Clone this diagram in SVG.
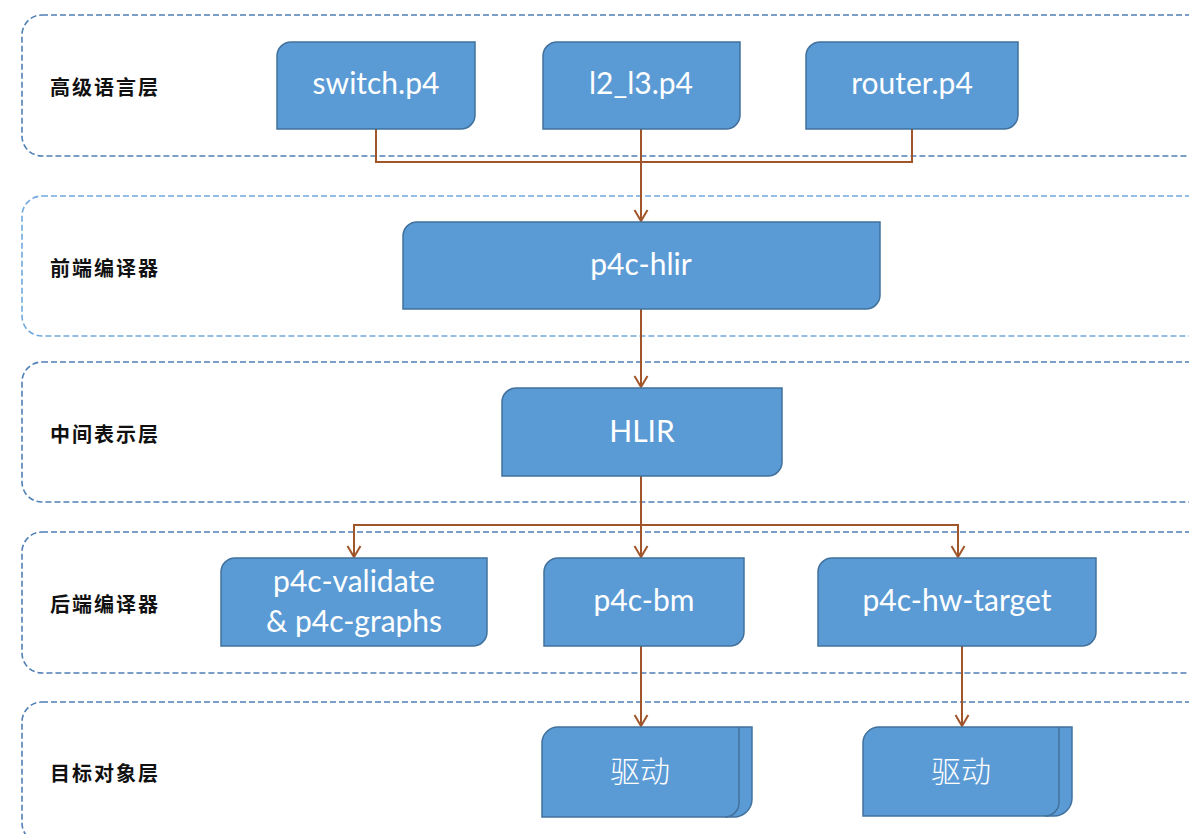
<svg xmlns="http://www.w3.org/2000/svg" width="1189" height="834" viewBox="0 0 1189 834">
  <defs>
    <style>
      .layer { fill: none; stroke: #4F7FB5; stroke-width: 1.6; stroke-dasharray: 6 3; }
      .layer.light { stroke: #6FA9DE; }
      .layer-label { font-family: "Noto Sans CJK SC", "Noto Sans", sans-serif; font-size: 20px; font-weight: 700; fill: #111; letter-spacing: 2px; dominant-baseline: central; }
      .node { fill: #5B9BD5; stroke: #41719C; stroke-width: 1.5; }
      .fold { fill: none; stroke: #41719C; stroke-width: 1.5; }
      .label { font-family: Lato, "Open Sans", "Noto Sans CJK SC", sans-serif; font-size: 30px; fill: #FFFFFF; text-anchor: middle; dominant-baseline: central; }
      .label-cjk { font-family: "Noto Sans CJK SC", sans-serif; font-size: 30px; font-weight: 300; fill: #FFFFFF; text-anchor: middle; dominant-baseline: central; }
      .edge { fill: none; stroke: #A0562A; stroke-width: 2; marker-end: url(#arrow); }
      .edge.plain { marker-end: none; }
    </style>
    <marker id="arrow" viewBox="-12 -8 14 16" markerWidth="14" markerHeight="16" refX="0" refY="0" orient="auto" markerUnits="userSpaceOnUse">
      <path d="M-11,-6.5 L0,0 L-11,6.5" fill="none" stroke="#A0562A" stroke-width="2"/>
    </marker>
  </defs>

  <!-- layer bands -->
  <g id="layers">
    <rect class="layer" x="22" y="15" width="1210" height="141" rx="20"/>
    <rect class="layer light" x="22" y="196" width="1210" height="140" rx="20"/>
    <rect class="layer" x="22" y="362" width="1210" height="140" rx="20"/>
    <rect class="layer" x="22" y="532" width="1210" height="141" rx="20"/>
    <rect class="layer" x="22" y="702" width="1210" height="141" rx="20"/>
    <text class="layer-label" x="50" y="86">高级语言层</text>
    <text class="layer-label" x="50" y="267">前端编译器</text>
    <text class="layer-label" x="50" y="433">中间表示层</text>
    <text class="layer-label" x="50" y="603">后端编译器</text>
    <text class="layer-label" x="50" y="772">目标对象层</text>
  </g>

  <!-- connectors -->
  <g id="connectors">
    <path class="edge plain" d="M376,129 V162 H912 V129"/>
    <path class="edge" d="M641,129 V221"/>
    <path class="edge" d="M641,309 V387"/>
    <path class="edge" d="M641,476 V557"/>
    <path class="edge" d="M641,525 H354 V557"/>
    <path class="edge" d="M641,525 H958 V557"/>
    <path class="edge" d="M641,646 V726"/>
    <path class="edge" d="M962,646 V726"/>
  </g>

  <!-- source programs -->
  <g id="switch-p4">
    <path class="node" d="M291,42 H475 V115 A14,14 0 0 1 461,129 H277 V56 A14,14 0 0 1 291,42 Z"/>
    <text class="label" x="376" y="82">switch.p4</text>
  </g>
  <g id="l2-l3-p4">
    <path class="node" d="M557,42 H740 V115 A14,14 0 0 1 726,129 H543 V56 A14,14 0 0 1 557,42 Z"/>
    <text class="label" x="641" y="82">l2_l3.p4</text>
  </g>
  <g id="router-p4">
    <path class="node" d="M820,42 H1018 V115 A14,14 0 0 1 1004,129 H806 V56 A14,14 0 0 1 820,42 Z"/>
    <text class="label" x="912" y="82">router.p4</text>
  </g>

  <!-- front-end compiler -->
  <g id="p4c-hlir">
    <path class="node" d="M417,222 H880 V295 A14,14 0 0 1 866,309 H403 V236 A14,14 0 0 1 417,222 Z"/>
    <text class="label" x="641" y="263">p4c-hlir</text>
  </g>

  <!-- intermediate representation -->
  <g id="hlir">
    <path class="node" d="M516,388 H782 V462 A14,14 0 0 1 768,476 H502 V402 A14,14 0 0 1 516,388 Z"/>
    <text class="label" x="642" y="430">HLIR</text>
  </g>

  <!-- back-end compilers -->
  <g id="p4c-validate">
    <path class="node" d="M235,558 H487 V632 A14,14 0 0 1 473,646 H221 V572 A14,14 0 0 1 235,558 Z"/>
    <text class="label" x="354" y="580">p4c-validate</text>
    <text class="label" x="354" y="620">&amp; p4c-graphs</text>
  </g>
  <g id="p4c-bm">
    <path class="node" d="M558,558 H744 V632 A14,14 0 0 1 730,646 H544 V572 A14,14 0 0 1 558,558 Z"/>
    <text class="label" x="644" y="599">p4c-bm</text>
  </g>
  <g id="p4c-hw-target">
    <path class="node" d="M832,558 H1096 V632 A14,14 0 0 1 1082,646 H818 V572 A14,14 0 0 1 832,558 Z"/>
    <text class="label" x="957" y="599">p4c-hw-target</text>
  </g>

  <!-- target drivers -->
  <g id="driver-bm">
    <path class="node" d="M558,727 H752 V799 A18,18 0 0 1 734,817 H542 V743 A16,16 0 0 1 558,727 Z"/>
    <path class="fold" d="M739,727 V803 A14,14 0 0 1 725,817"/>
    <text class="label-cjk" x="640" y="769">驱动</text>
  </g>
  <g id="driver-hw">
    <path class="node" d="M879,727 H1072 V798 A18,18 0 0 1 1054,816 H863 V743 A16,16 0 0 1 879,727 Z"/>
    <path class="fold" d="M1059,727 V802 A14,14 0 0 1 1045,816"/>
    <text class="label-cjk" x="961" y="769">驱动</text>
  </g>
</svg>
